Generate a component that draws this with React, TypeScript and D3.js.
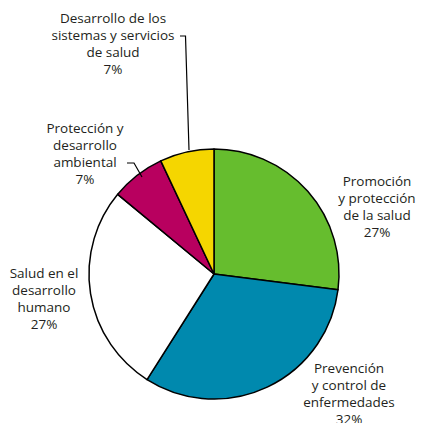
import React from "react";
import * as d3 from "d3";

const categories = [
  "Promoción y protección de la salud",
  "Prevención y control de enfermedades",
  "Salud en el desarrollo humano",
  "Protección y desarrollo ambiental",
  "Desarrollo de los sistemas y servicios de salud",
];
const values = [27, 32, 27, 7, 7];
const colors = ["#66bd2e", "#0089ae", "#ffffff", "#b8005f", "#f5d600"];
const labelLines = [
  ["Promoción", "y protección", "de la salud", "27%"],
  ["Prevención", "y control de", "enfermedades", "32%"],
  ["Salud en el", "desarrollo", "humano", "27%"],
  ["Protección y", "desarrollo", "ambiental", "7%"],
  ["Desarrollo de los", "sistemas y servicios", "de salud", "7%"],
];

const W = 421;
const H = 423;
const cx = 214;
const cy = 274;
const R = 125;
const labelPos = [
  { x: 377, y: 186, lh: 17 },
  { x: 349, y: 373, lh: 17 },
  { x: 44, y: 278, lh: 17 },
  { x: 85, y: 133, lh: 17 },
  { x: 113, y: 23, lh: 17 },
];

export default function App() {
  const pie = d3
    .pie<number>()
    .sort(null)
    .startAngle(0)
    .endAngle(2 * Math.PI);
  const arcs = pie(values);
  const arc = d3.arc<d3.PieArcDatum<number>>().innerRadius(0).outerRadius(R);
  const font = "'Open Sans', sans-serif";
  return (
    <svg
      width={W}
      height={H}
      style={{ position: "absolute", left: 0, top: 0, background: "#fff" }}
    >
      <g transform={`translate(${cx},${cy})`}>
        {arcs.map((a, i) => (
          <path
            key={categories[i]}
            d={arc(a) || ""}
            fill={colors[i]}
            stroke="#000"
            strokeWidth={1.5}
            strokeLinejoin="round"
          />
        ))}
      </g>
      <path d="M180,36 H185.5 L189,150" fill="none" stroke="#000" strokeWidth={1.2} />
      <path d="M127,163 H134 L142,177" fill="none" stroke="#000" strokeWidth={1.2} />
      {labelLines.map((lines, i) => (
        <text
          key={"l" + i}
          x={labelPos[i].x}
          y={labelPos[i].y}
          textAnchor="middle"
          fontFamily={font}
          fontSize={13.5}
          fill="#231f20"
        >
          {lines.map((ln, j) => (
            <tspan key={j} x={labelPos[i].x} dy={j === 0 ? 0 : labelPos[i].lh}>
              {ln}
            </tspan>
          ))}
        </text>
      ))}
    </svg>
  );
}
